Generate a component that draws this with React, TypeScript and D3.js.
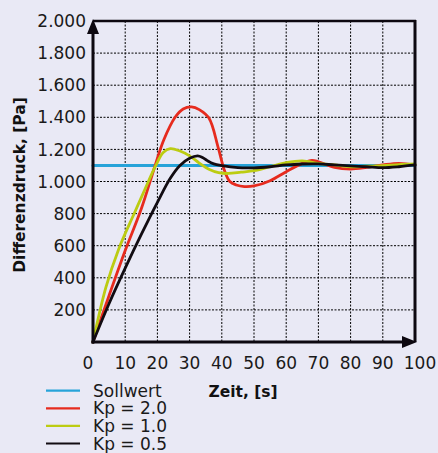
import React from "react";
import * as d3 from "d3";

const W = 438;
const H = 453;

const xTicks = [0, 10, 20, 30, 40, 50, 60, 70, 80, 90, 100];
const yTicks = [200, 400, 600, 800, 1000, 1200, 1400, 1600, 1800, 2000];
const yTickLabels = ["200", "400", "600", "800", "1.000", "1.200", "1.400", "1.600", "1.800", "2.000"];

const sollwert = 1100;

const kp2T = [0, 5, 10, 15, 19.3, 22, 25.5, 28, 30.6, 33, 36, 38.9, 40.8, 42.5, 44.5, 47, 50, 55, 60, 65, 68, 70, 75, 80, 85, 90, 95, 100];
const kp2V = [0, 290, 570, 830, 1100, 1260, 1400, 1452, 1465, 1448, 1395, 1210, 1070, 1000, 978, 968, 972, 1005, 1061, 1113, 1132, 1123, 1088, 1078, 1088, 1103, 1113, 1103];

const kp1T = [0, 4, 8, 13, 17.2, 19.5, 21.8, 24, 27, 30, 33, 36, 39, 42, 46, 50, 55, 60, 65, 70, 75, 80, 85, 90, 95, 100];
const kp1V = [0, 340, 580, 810, 1000, 1100, 1180, 1205, 1190, 1160, 1115, 1076, 1055, 1050, 1058, 1067, 1092, 1117, 1128, 1113, 1103, 1092, 1095, 1098, 1105, 1109];

const kp05T = [0, 5, 10, 15, 20, 24, 27, 30, 32.5, 34, 35.5, 37.5, 40, 45, 50, 55, 60, 65, 70, 75, 80, 85, 90, 95, 100];
const kp05V = [0, 240, 460, 670, 870, 1020, 1100, 1145, 1160, 1150, 1130, 1110, 1099, 1086, 1085, 1092, 1103, 1109, 1110, 1103, 1097, 1092, 1086, 1092, 1103];

const legendLabels = ["Sollwert", "Kp = 2.0", "Kp = 1.0", "Kp = 0.5"];
const colors = ["#27a3d9", "#e62b1e", "#bccc12", "#120c12"];

export default function App() {
  const x = d3.scaleLinear().domain([0, 100]).range([93, 415]);
  const y = d3.scaleLinear().domain([0, 2000]).range([342, 21]);
  const line = d3
    .line<[number, number]>()
    .x((d) => x(d[0]))
    .y((d) => y(d[1]))
    .curve(d3.curveCatmullRom.alpha(0.5));

  const series = [
    [[0, sollwert], [100, sollwert]] as [number, number][],
    kp2T.map((t, i) => [t, kp2V[i]] as [number, number]),
    kp1T.map((t, i) => [t, kp1V[i]] as [number, number]),
    kp05T.map((t, i) => [t, kp05V[i]] as [number, number]),
  ];

  const font = "'DejaVu Sans', sans-serif";
  const x0 = x(0), x1 = x(100), y0 = y(0), y1 = y(2000);

  return (
    <svg width={W} height={H} style={{ position: "absolute", left: 0, top: 0 }}>
      <rect x={0} y={0} width={W} height={H} fill="#e9e9f5" />
      {/* grid */}
      {yTicks.filter((v) => v < 2000).map((v) => (
        <line key={"gy" + v} x1={x0} x2={x1} y1={y(v)} y2={y(v)} stroke="#000" strokeWidth={1} strokeDasharray="2,1.5" />
      ))}
      {xTicks.filter((t) => t > 0 && t < 100).map((t) => (
        <line key={"gx" + t} x1={x(t)} x2={x(t)} y1={y1} y2={y0} stroke="#000" strokeWidth={1} strokeDasharray="2,1.5" />
      ))}
      {/* series */}
      {series.map((s, i) => (
        <path key={"s" + i} d={line(s) || ""} fill="none" stroke={colors[i]} strokeWidth={i === 0 ? 3 : 2.8} strokeLinejoin="round" strokeLinecap="round" />
      ))}
      {/* frame */}
      <line x1={x0} x2={x1 + 1} y1={y1} y2={y1} stroke="#0d0810" strokeWidth={2.5} />
      <line x1={x1} x2={x1} y1={y1 - 1} y2={y0} stroke="#0d0810" strokeWidth={3} />
      <line x1={x0} x2={x0} y1={y0 + 1.5} y2={y1 + 10} stroke="#0d0810" strokeWidth={3} />
      <line x1={x0 - 1.5} x2={x1 - 10} y1={y0} y2={y0} stroke="#0d0810" strokeWidth={3} />
      <path d={`M${x0},${y1 - 2} L${x0 - 6},${y1 + 13} L${x0 + 6},${y1 + 13} Z`} fill="#0d0810" />
      <path d={`M${x1 + 2},${y0} L${x1 - 13},${y0 - 6} L${x1 - 13},${y0 + 6} Z`} fill="#0d0810" />
      {/* y tick labels */}
      {yTicks.map((v, i) => (
        <text key={"ty" + v} x={86} y={y(v)} dy="0.36em" textAnchor="end" fontFamily={font} fontSize={17} fill="#1a1a1a">
          {yTickLabels[i]}
        </text>
      ))}
      {/* x tick labels */}
      {xTicks.map((t, i) => (
        <text key={"tx" + t} x={x(t) + (i === 0 ? -5 : i === xTicks.length - 1 ? 5 : 0)} y={369} textAnchor="middle" fontFamily={font} fontSize={17} fill="#1a1a1a">
          {t}
        </text>
      ))}
      {/* axis titles */}
      <text x={243} y={397} textAnchor="middle" fontFamily={font} fontSize={15.5} fontWeight="bold" fill="#111">
        Zeit, [s]
      </text>
      <text transform="translate(25,185) rotate(-90)" textAnchor="middle" fontFamily={font} fontSize={15.5} fontWeight="bold" fill="#111">
        Differenzdruck, [Pa]
      </text>
      {/* legend */}
      {legendLabels.map((l, i) => {
        const ly = 390.7 + i * 17.6;
        return (
          <g key={"lg" + i}>
            <line x1={46} x2={80} y1={ly} y2={ly} stroke={colors[i]} strokeWidth={2.2} />
            <text x={93} y={ly + 6} fontFamily={font} fontSize={17} fill="#1a1a1a">
              {l}
            </text>
          </g>
        );
      })}
    </svg>
  );
}
